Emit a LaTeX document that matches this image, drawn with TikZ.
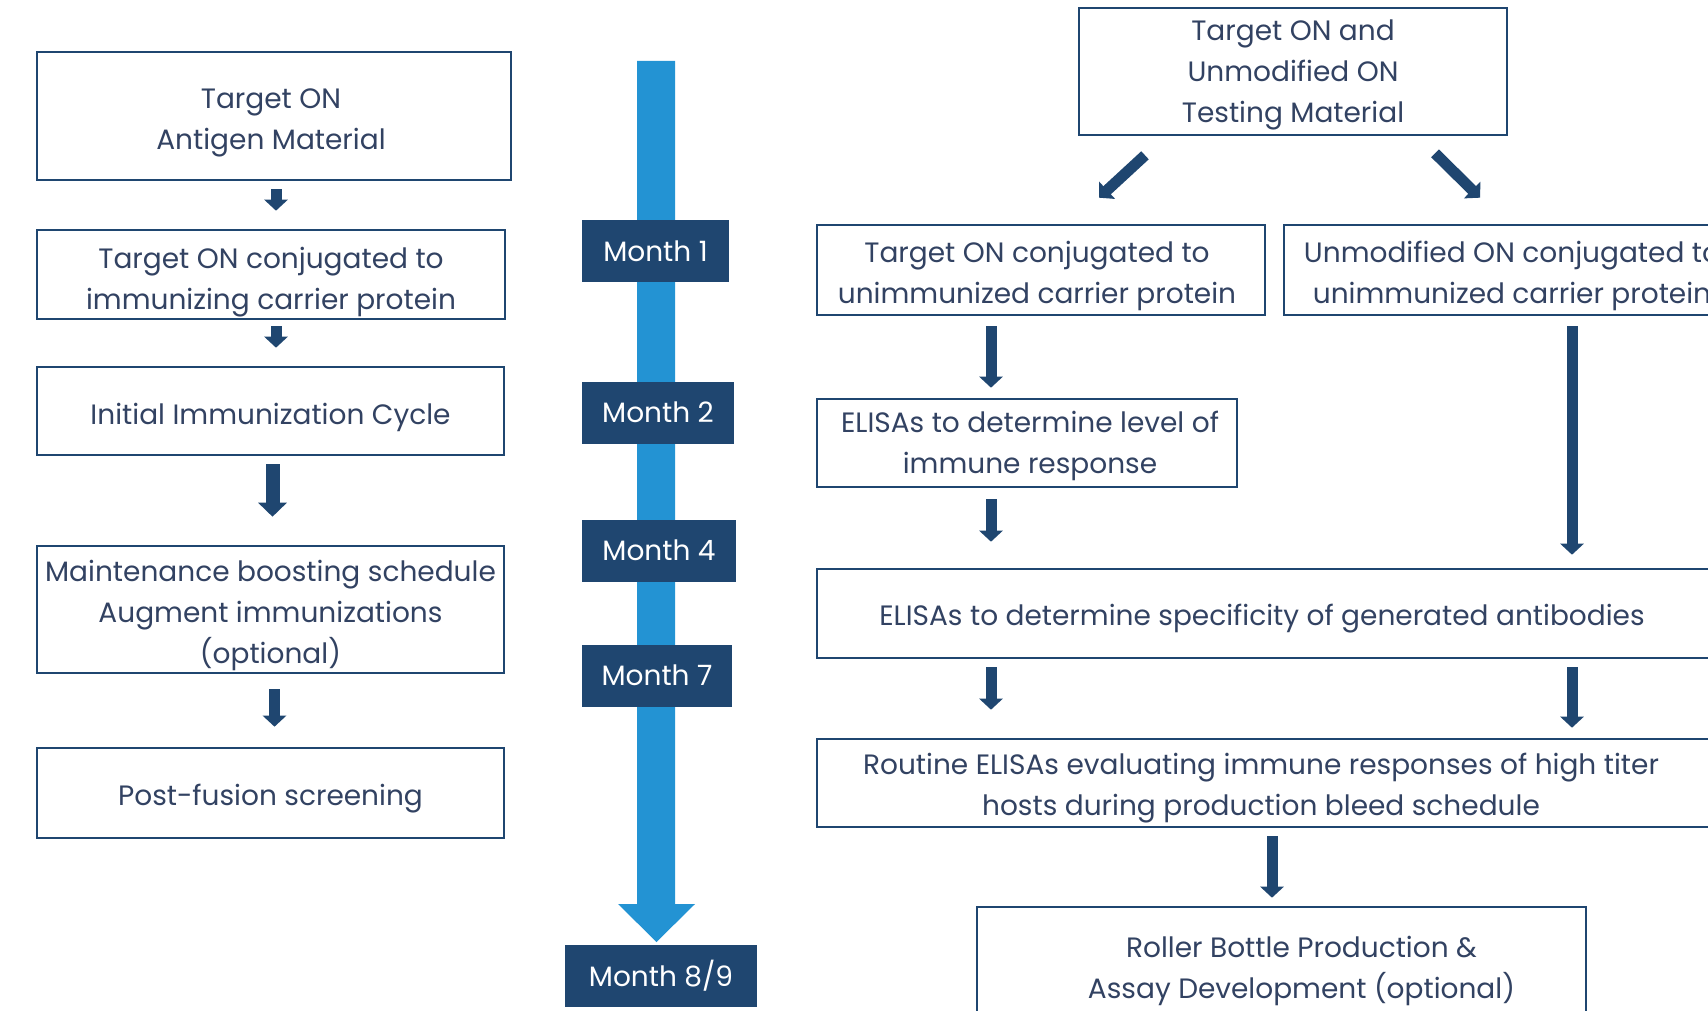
\documentclass[tikz,border=0pt]{standalone}
\usepackage{fontspec}
\setmainfont{Poppins}
\usetikzlibrary{arrows.meta}
\definecolor{navy}{RGB}{31,70,112}
\definecolor{txt}{RGB}{50,66,98}
\definecolor{tlblue}{RGB}{35,147,211}
\begin{document}
\begin{tikzpicture}[x=1pt,y=-1pt,
  box/.style={draw=navy, line width=2.6pt, fill=white, inner sep=0pt},
  plain/.style={inner sep=0pt, align=center, text=txt, font=\fontsize{28}{41}\selectfont},
  month/.style={fill=navy, text=white, inner sep=0pt, minimum height=62pt, font=\fontsize{28}{34}\selectfont},
  arr/.style={draw=navy, line width=11pt, -{Triangle[width=23pt,length=11pt]}},
  bigarr/.style={draw=navy, line width=14pt, -{Triangle[width=28pt,length=14pt]}}]
\useasboundingbox (0,0) rectangle (1708,1011);
\clip (0,0) rectangle (1708,1011);
\fill[white] (0,0) rectangle (1708,1011);

% left column
\node[box, minimum width=474pt, minimum height=128pt] (L1) at (274,116) {};
\node[plain] (L1t) at ([xshift=-3pt,yshift=-7pt]L1.center) {Target ON\\Antigen Material};
\node[box, minimum width=468pt, minimum height=89pt] (L2) at (271,274.5) {};
\node[plain] (L2t) at ([yshift=-8pt]L2.center) {Target ON conjugated to\\immunizing carrier protein};
\node[box, minimum width=467pt, minimum height=88pt] (L3) at (270.5,411) {};
\node[plain] (L3t) at ([yshift=-6pt]L3.center) {Initial Immunization Cycle};
\node[box, minimum width=467pt, minimum height=127pt] (L4) at (270.5,609.5) {};
\node[plain] (L4t) at ([yshift=-6pt]L4.center) {Maintenance boosting schedule\\Augment immunizations\\(optional)};
\node[box, minimum width=467pt, minimum height=90pt] (L5) at (270.5,793) {};
\node[plain] (L5t) at ([yshift=-6pt]L5.center) {Post-fusion screening};

\draw[arr, shorten <=8pt, shorten >=18pt] ([xshift=2pt]L1.south) -- ([xshift=2pt]L1.south |- L2.north);
\draw[arr, shorten <=6pt, shorten >=18pt] ([xshift=5pt]L2.south) -- ([xshift=5pt]L2.south |- L3.north);
\draw[bigarr, shorten <=8pt, shorten >=28pt] ([xshift=2pt]L3.south) -- ([xshift=2pt]L3.south |- L4.north);
\draw[arr, shorten <=15pt, shorten >=20pt] ([xshift=4pt]L4.south) -- ([xshift=4pt]L4.south |- L5.north);

% timeline
\fill[tlblue] (637,61) -- (675,61) -- (675,904) -- (695,904) -- (656.5,942) -- (618,904) -- (637,904) -- cycle;
\node[month, minimum width=147pt] (M1) at (655.5,251) {Month 1};
\node[month, minimum width=152pt] (M2) at (658,412.5) {Month 2};
\node[month, minimum width=154pt] (M4) at (659,550.5) {Month 4};
\node[month, minimum width=150pt] (M7) at (657,675.5) {Month 7};
\node[month, minimum width=192pt] (M8) at (661,976) {Month 8/9};

% right part
\node[box, minimum width=428pt, minimum height=127pt] (T) at (1293,71.5) {};
\node[plain] (Tt) at ([yshift=-3pt]T.center) {Target ON and\\Unmodified ON\\Testing Material};
\node[box, minimum width=448pt, minimum height=90pt] (R1) at (1041,270) {};
\node[plain] (R1t) at ([xshift=-4pt,yshift=-6pt]R1.center) {Target ON conjugated to\\unimmunized carrier protein};
\node[box, minimum width=456pt, minimum height=90pt] (R2) at (1512,270) {};
\node[plain] (R2t) at ([yshift=-6pt]R2.center) {Unmodified ON conjugated to\\unimmunized carrier protein};
\node[box, minimum width=420pt, minimum height=88pt] (R3) at (1027,443) {};
\node[plain] (R3t) at ([xshift=3pt,yshift=-3pt]R3.center) {ELISAs to determine level of\\immune response};
\node[box, minimum width=898pt, minimum height=89pt] (R4) at (1266,613.5) {};
\node[plain] (R4t) at ([xshift=-4pt,yshift=-5pt]R4.center) {ELISAs to determine specificity of generated antibodies};
\node[box, minimum width=898pt, minimum height=88pt] (R5) at (1266,783) {};
\node[plain] (R5t) at ([xshift=-5pt,yshift=-5pt]R5.center) {Routine ELISAs evaluating immune responses of high titer\\hosts during production bleed schedule};
\node[box, minimum width=609pt, minimum height=133pt] (R6) at (1281.5,973.5) {};
\node[plain] (R6t) at ([xshift=20pt,yshift=3pt]R6.center) {Roller Bottle Production \&\\Assay Development (optional)};

\draw[arr] ([shift={(-148,19)}]T.south) -- ([shift={(58,-26)}]R1.north);
\draw[arr] ([shift={(142,17)}]T.south) -- ([shift={(-32,-26)}]R2.north);
\draw[arr, shorten <=10pt, shorten >=10pt] ([xshift=-50pt]R1.south) -- ([xshift=-50pt]R1.south |- R3.north);
\draw[arr, shorten <=11pt, shorten >=26pt] ([xshift=-36pt]R3.south) -- ([xshift=-36pt]R3.south |- R4.north);
\draw[arr, shorten <=10pt, shorten >=13pt] ([xshift=60pt]R2.south) -- ([xshift=60pt]R2.south |- R4.north);
\draw[arr, shorten <=8pt, shorten >=28pt] ([xshift=-275pt]R4.south) -- ([xshift=-275pt]R4.south |- R5.north);
\draw[arr, shorten <=8pt, shorten >=10pt] ([xshift=306pt]R4.south) -- ([xshift=306pt]R4.south |- R5.north);
\draw[arr, shorten <=8pt, shorten >=8pt] ([xshift=6pt]R5.south) -- ([xshift=6pt]R5.south |- R6.north);
\end{tikzpicture}
\end{document}
